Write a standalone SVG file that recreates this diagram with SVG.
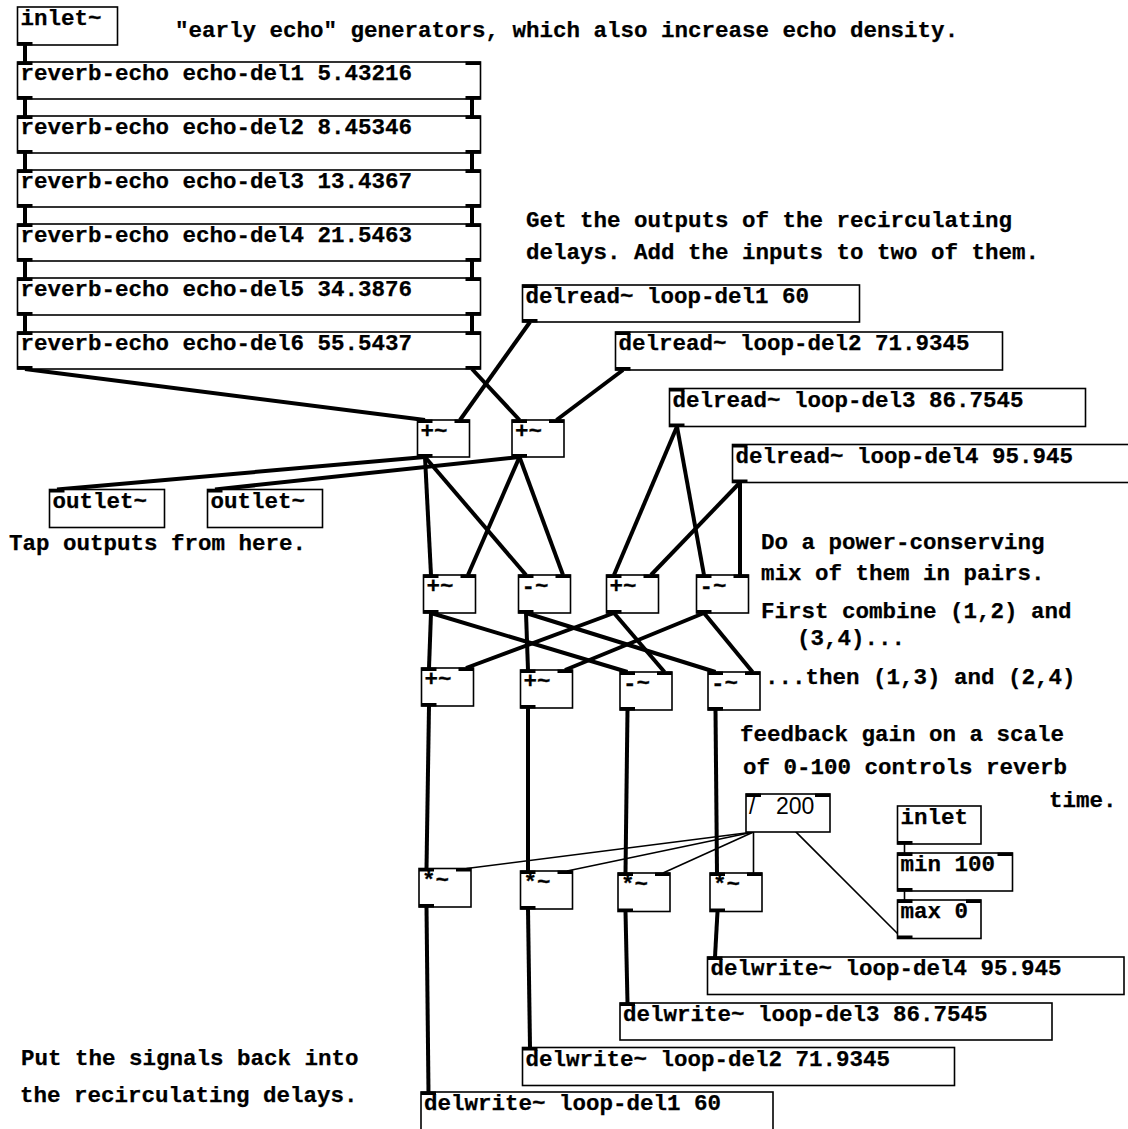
<svg xmlns="http://www.w3.org/2000/svg" width="1128" height="1129" viewBox="0 0 1128 1129">
<style>
.b{fill:#fff;stroke:#000;stroke-width:1.6}
.io{fill:#000}
.t{font-family:"Liberation Mono","Courier New",monospace;font-weight:bold;font-size:22.5px;fill:#000;stroke:#000;stroke-width:0.25}
.s{stroke:#000;stroke-width:4;fill:none}
.c{stroke:#000;stroke-width:1.6;fill:none}
</style>
<rect width="1128" height="1129" fill="#fff"/>
<g id="connectors">
<line class="s" x1="25" y1="45" x2="25" y2="62"/>
<line class="s" x1="25" y1="99" x2="25" y2="116"/>
<line class="s" x1="25" y1="153" x2="25" y2="170"/>
<line class="s" x1="25" y1="207" x2="25" y2="224"/>
<line class="s" x1="25" y1="261" x2="25" y2="278"/>
<line class="s" x1="25" y1="315" x2="25" y2="332"/>
<line class="s" x1="472" y1="99" x2="472" y2="116"/>
<line class="s" x1="472" y1="153" x2="472" y2="170"/>
<line class="s" x1="472" y1="207" x2="472" y2="224"/>
<line class="s" x1="472" y1="261" x2="472" y2="278"/>
<line class="s" x1="472" y1="315" x2="472" y2="332"/>
<line class="s" x1="25" y1="369" x2="425" y2="420"/>
<line class="s" x1="472" y1="369" x2="519.5" y2="420"/>
<line class="s" x1="530" y1="322" x2="460" y2="420"/>
<line class="s" x1="623" y1="370" x2="556.5" y2="420"/>
<line class="s" x1="425" y1="457" x2="57" y2="489.5"/>
<line class="s" x1="519.5" y1="457" x2="215" y2="489.5"/>
<line class="s" x1="425" y1="457" x2="431" y2="575"/>
<line class="s" x1="425" y1="457" x2="526" y2="575"/>
<line class="s" x1="519.5" y1="457" x2="468" y2="575"/>
<line class="s" x1="519.5" y1="457" x2="563" y2="575"/>
<line class="s" x1="677" y1="426.5" x2="614" y2="575"/>
<line class="s" x1="677" y1="426.5" x2="704" y2="575"/>
<line class="s" x1="740" y1="482.5" x2="651" y2="575"/>
<line class="s" x1="740" y1="482.5" x2="740" y2="575"/>
<line class="s" x1="431" y1="613" x2="429" y2="668"/>
<line class="s" x1="431" y1="613" x2="627.5" y2="672"/>
<line class="s" x1="526" y1="613" x2="528" y2="670"/>
<line class="s" x1="526" y1="613" x2="715.5" y2="672"/>
<line class="s" x1="614" y1="613" x2="466" y2="668"/>
<line class="s" x1="614" y1="613" x2="664.5" y2="672"/>
<line class="s" x1="704" y1="613" x2="565" y2="670"/>
<line class="s" x1="704" y1="613" x2="752.5" y2="672"/>
<line class="s" x1="429" y1="706" x2="426.5" y2="868.5"/>
<line class="s" x1="528" y1="708" x2="528" y2="871"/>
<line class="s" x1="627.5" y1="710" x2="625.5" y2="873"/>
<line class="s" x1="715.5" y1="710" x2="717" y2="873"/>
<line class="s" x1="426.5" y1="907" x2="428.5" y2="1092"/>
<line class="s" x1="528" y1="909" x2="530" y2="1047.5"/>
<line class="s" x1="625.5" y1="911.5" x2="627.5" y2="1003"/>
<line class="s" x1="717.5" y1="911.5" x2="715" y2="957"/>
<line class="c" x1="753.5" y1="832" x2="466.5" y2="868.5"/>
<line class="c" x1="753.5" y1="832" x2="567" y2="871"/>
<line class="c" x1="753.5" y1="832" x2="663" y2="873"/>
<line class="c" x1="753.5" y1="832" x2="753.5" y2="873"/>
<line class="c" x1="902" y1="938" x2="758" y2="794"/>
<line class="c" x1="904.5" y1="844" x2="904.5" y2="853"/>
<line class="c" x1="904.5" y1="891" x2="904.5" y2="900"/>
</g>
<g id="inlet_sig"><rect class="b" x="17.5" y="7" width="100" height="38"/><rect class="io" x="17.5" y="42" width="15" height="3.5"/><text class="t" x="20.5" y="25">inlet~</text></g>
<g id="rev1"><rect class="b" x="17.5" y="62" width="463" height="37"/><rect class="io" x="17.5" y="61.5" width="15" height="3.5"/><rect class="io" x="465.5" y="61.5" width="15" height="3.5"/><rect class="io" x="17.5" y="96" width="15" height="3.5"/><rect class="io" x="465.5" y="96" width="15" height="3.5"/><text class="t" x="20.5" y="79.5">reverb-echo echo-del1 5.43216</text></g>
<g id="rev2"><rect class="b" x="17.5" y="116" width="463" height="37"/><rect class="io" x="17.5" y="115.5" width="15" height="3.5"/><rect class="io" x="465.5" y="115.5" width="15" height="3.5"/><rect class="io" x="17.5" y="150" width="15" height="3.5"/><rect class="io" x="465.5" y="150" width="15" height="3.5"/><text class="t" x="20.5" y="133.5">reverb-echo echo-del2 8.45346</text></g>
<g id="rev3"><rect class="b" x="17.5" y="170" width="463" height="37"/><rect class="io" x="17.5" y="169.5" width="15" height="3.5"/><rect class="io" x="465.5" y="169.5" width="15" height="3.5"/><rect class="io" x="17.5" y="204" width="15" height="3.5"/><rect class="io" x="465.5" y="204" width="15" height="3.5"/><text class="t" x="20.5" y="187.5">reverb-echo echo-del3 13.4367</text></g>
<g id="rev4"><rect class="b" x="17.5" y="224" width="463" height="37"/><rect class="io" x="17.5" y="223.5" width="15" height="3.5"/><rect class="io" x="465.5" y="223.5" width="15" height="3.5"/><rect class="io" x="17.5" y="258" width="15" height="3.5"/><rect class="io" x="465.5" y="258" width="15" height="3.5"/><text class="t" x="20.5" y="241.5">reverb-echo echo-del4 21.5463</text></g>
<g id="rev5"><rect class="b" x="17.5" y="278" width="463" height="37"/><rect class="io" x="17.5" y="277.5" width="15" height="3.5"/><rect class="io" x="465.5" y="277.5" width="15" height="3.5"/><rect class="io" x="17.5" y="312" width="15" height="3.5"/><rect class="io" x="465.5" y="312" width="15" height="3.5"/><text class="t" x="20.5" y="295.5">reverb-echo echo-del5 34.3876</text></g>
<g id="rev6"><rect class="b" x="17.5" y="332" width="463" height="37"/><rect class="io" x="17.5" y="331.5" width="15" height="3.5"/><rect class="io" x="465.5" y="331.5" width="15" height="3.5"/><rect class="io" x="17.5" y="366" width="15" height="3.5"/><rect class="io" x="465.5" y="366" width="15" height="3.5"/><text class="t" x="20.5" y="349.5">reverb-echo echo-del6 55.5437</text></g>
<g id="delread1"><rect class="b" x="522.5" y="285" width="337" height="37"/><rect class="io" x="522.5" y="284.5" width="15" height="3.5"/><rect class="io" x="522.5" y="319" width="15" height="3.5"/><text class="t" x="525.5" y="302.5">delread~ loop-del1 60</text></g>
<g id="delread2"><rect class="b" x="615.5" y="332" width="387" height="38"/><rect class="io" x="615.5" y="331.5" width="15" height="3.5"/><rect class="io" x="615.5" y="367" width="15" height="3.5"/><text class="t" x="618.5" y="350">delread~ loop-del2 71.9345</text></g>
<g id="delread3"><rect class="b" x="669.5" y="388.5" width="416" height="38"/><rect class="io" x="669.5" y="388" width="15" height="3.5"/><rect class="io" x="669.5" y="423.5" width="15" height="3.5"/><text class="t" x="672.5" y="406.5">delread~ loop-del3 86.7545</text></g>
<g id="delread4"><rect class="b" x="732.5" y="444.5" width="400" height="38"/><rect class="io" x="732.5" y="444" width="15" height="3.5"/><rect class="io" x="732.5" y="479.5" width="15" height="3.5"/><text class="t" x="735.5" y="462.5">delread~ loop-del4 95.945</text></g>
<g id="plusA"><rect class="b" x="417.5" y="420" width="52" height="37"/><rect class="io" x="417.5" y="419.5" width="15" height="3.5"/><rect class="io" x="454.5" y="419.5" width="15" height="3.5"/><rect class="io" x="417.5" y="454" width="15" height="3.5"/><text class="t" x="420.5" y="437.5">+~</text></g>
<g id="plusB"><rect class="b" x="512" y="420" width="52" height="37"/><rect class="io" x="512" y="419.5" width="15" height="3.5"/><rect class="io" x="549" y="419.5" width="15" height="3.5"/><rect class="io" x="512" y="454" width="15" height="3.5"/><text class="t" x="515" y="437.5">+~</text></g>
<g id="outlet1"><rect class="b" x="49.5" y="489.5" width="115" height="38"/><rect class="io" x="49.5" y="489" width="15" height="3.5"/><text class="t" x="52.5" y="507.5">outlet~</text></g>
<g id="outlet2"><rect class="b" x="207.5" y="489.5" width="115" height="38"/><rect class="io" x="207.5" y="489" width="15" height="3.5"/><text class="t" x="210.5" y="507.5">outlet~</text></g>
<g id="mix1a"><rect class="b" x="423.5" y="575" width="52" height="38"/><rect class="io" x="423.5" y="574.5" width="15" height="3.5"/><rect class="io" x="460.5" y="574.5" width="15" height="3.5"/><rect class="io" x="423.5" y="610" width="15" height="3.5"/><text class="t" x="426.5" y="593">+~</text></g>
<g id="mix1b"><rect class="b" x="518.5" y="575" width="52" height="38"/><rect class="io" x="518.5" y="574.5" width="15" height="3.5"/><rect class="io" x="555.5" y="574.5" width="15" height="3.5"/><rect class="io" x="518.5" y="610" width="15" height="3.5"/><text class="t" x="521.5" y="593">-~</text></g>
<g id="mix1c"><rect class="b" x="606.5" y="575" width="52" height="38"/><rect class="io" x="606.5" y="574.5" width="15" height="3.5"/><rect class="io" x="643.5" y="574.5" width="15" height="3.5"/><rect class="io" x="606.5" y="610" width="15" height="3.5"/><text class="t" x="609.5" y="593">+~</text></g>
<g id="mix1d"><rect class="b" x="696.5" y="575" width="52" height="38"/><rect class="io" x="696.5" y="574.5" width="15" height="3.5"/><rect class="io" x="733.5" y="574.5" width="15" height="3.5"/><rect class="io" x="696.5" y="610" width="15" height="3.5"/><text class="t" x="699.5" y="593">-~</text></g>
<g id="mix2a"><rect class="b" x="421.5" y="668" width="52" height="38"/><rect class="io" x="421.5" y="667.5" width="15" height="3.5"/><rect class="io" x="458.5" y="667.5" width="15" height="3.5"/><rect class="io" x="421.5" y="703" width="15" height="3.5"/><text class="t" x="424.5" y="686">+~</text></g>
<g id="mix2b"><rect class="b" x="520.5" y="670" width="52" height="38"/><rect class="io" x="520.5" y="669.5" width="15" height="3.5"/><rect class="io" x="557.5" y="669.5" width="15" height="3.5"/><rect class="io" x="520.5" y="705" width="15" height="3.5"/><text class="t" x="523.5" y="688">+~</text></g>
<g id="mix2c"><rect class="b" x="620" y="672" width="52" height="38"/><rect class="io" x="620" y="671.5" width="15" height="3.5"/><rect class="io" x="657" y="671.5" width="15" height="3.5"/><rect class="io" x="620" y="707" width="15" height="3.5"/><text class="t" x="623" y="690">-~</text></g>
<g id="mix2d"><rect class="b" x="708" y="672" width="52" height="38"/><rect class="io" x="708" y="671.5" width="15" height="3.5"/><rect class="io" x="745" y="671.5" width="15" height="3.5"/><rect class="io" x="708" y="707" width="15" height="3.5"/><text class="t" x="711" y="690">-~</text></g>
<g id="mul1"><rect class="b" x="419" y="868.5" width="52" height="38.5"/><rect class="io" x="419" y="868" width="15" height="3.5"/><rect class="io" x="456" y="868" width="15" height="3.5"/><rect class="io" x="419" y="904" width="15" height="3.5"/><text class="t" x="422" y="886.5">*~</text></g>
<g id="mul2"><rect class="b" x="520.5" y="871" width="52" height="38"/><rect class="io" x="520.5" y="870.5" width="15" height="3.5"/><rect class="io" x="557.5" y="870.5" width="15" height="3.5"/><rect class="io" x="520.5" y="906" width="15" height="3.5"/><text class="t" x="523.5" y="889">*~</text></g>
<g id="mul3"><rect class="b" x="618" y="873" width="52" height="38.5"/><rect class="io" x="618" y="872.5" width="15" height="3.5"/><rect class="io" x="655" y="872.5" width="15" height="3.5"/><rect class="io" x="618" y="908.5" width="15" height="3.5"/><text class="t" x="621" y="891">*~</text></g>
<g id="mul4"><rect class="b" x="710" y="873" width="52" height="38.5"/><rect class="io" x="710" y="872.5" width="15" height="3.5"/><rect class="io" x="747" y="872.5" width="15" height="3.5"/><rect class="io" x="710" y="908.5" width="15" height="3.5"/><text class="t" x="713" y="891">*~</text></g>
<g id="div200"><rect class="b" x="746" y="794" width="84" height="38"/><rect class="io" x="746" y="793.5" width="15" height="3.5"/><rect class="io" x="815" y="793.5" width="15" height="3.5"/><text x="749" y="814" font-family="Liberation Sans, Arial, sans-serif" font-size="23" fill="#000">/ <tspan x="776">200</tspan></text></g>
<g id="inlet_ctl"><rect class="b" x="897.5" y="806" width="83.5" height="38"/><rect class="io" x="897.5" y="841" width="15" height="3.5"/><text class="t" x="900.5" y="824">inlet</text></g>
<g id="min100"><rect class="b" x="897.5" y="853" width="115" height="38"/><rect class="io" x="897.5" y="852.5" width="15" height="3.5"/><rect class="io" x="997.5" y="852.5" width="15" height="3.5"/><rect class="io" x="897.5" y="888" width="15" height="3.5"/><text class="t" x="900.5" y="871">min 100</text></g>
<g id="max0"><rect class="b" x="897.5" y="900" width="83.5" height="38.5"/><rect class="io" x="897.5" y="899.5" width="15" height="3.5"/><rect class="io" x="966" y="899.5" width="15" height="3.5"/><rect class="io" x="897.5" y="935.5" width="15" height="3.5"/><text class="t" x="900.5" y="918">max 0</text></g>
<g id="delwrite4"><rect class="b" x="707.5" y="957" width="416.5" height="37.5"/><rect class="io" x="707.5" y="956.5" width="15" height="3.5"/><text class="t" x="710.5" y="975">delwrite~ loop-del4 95.945</text></g>
<g id="delwrite3"><rect class="b" x="620" y="1003" width="432" height="37"/><rect class="io" x="620" y="1002.5" width="15" height="3.5"/><text class="t" x="623" y="1021">delwrite~ loop-del3 86.7545</text></g>
<g id="delwrite2"><rect class="b" x="522.5" y="1047.5" width="432" height="38"/><rect class="io" x="522.5" y="1047" width="15" height="3.5"/><text class="t" x="525.5" y="1065.5">delwrite~ loop-del2 71.9345</text></g>
<g id="delwrite1"><rect class="b" x="421" y="1092" width="352" height="38"/><rect class="io" x="421" y="1091.5" width="15" height="3.5"/><text class="t" x="424" y="1110">delwrite~ loop-del1 60</text></g>
<g id="comments">
<text class="t" x="175" y="37">"early echo" generators, which also increase echo density.</text>
<text class="t" x="526" y="227">Get the outputs of the recirculating</text>
<text class="t" x="526" y="258.5">delays. Add the inputs to two of them.</text>
<text class="t" x="9" y="550">Tap outputs from here.</text>
<text class="t" x="761" y="548.5">Do a power-conserving</text>
<text class="t" x="761" y="579.5">mix of them in pairs.</text>
<text class="t" x="761" y="617.5">First combine (1,2) and</text>
<text class="t" x="797" y="645">(3,4)...</text>
<text class="t" x="765" y="683.5">...then (1,3) and (2,4)</text>
<text class="t" x="740" y="741">feedback gain on a scale</text>
<text class="t" x="743" y="774">of 0-100 controls reverb</text>
<text class="t" x="1049" y="807">time.</text>
<text class="t" x="21" y="1065">Put the signals back into</text>
<text class="t" x="20" y="1102">the recirculating delays.</text>
</g>
</svg>
